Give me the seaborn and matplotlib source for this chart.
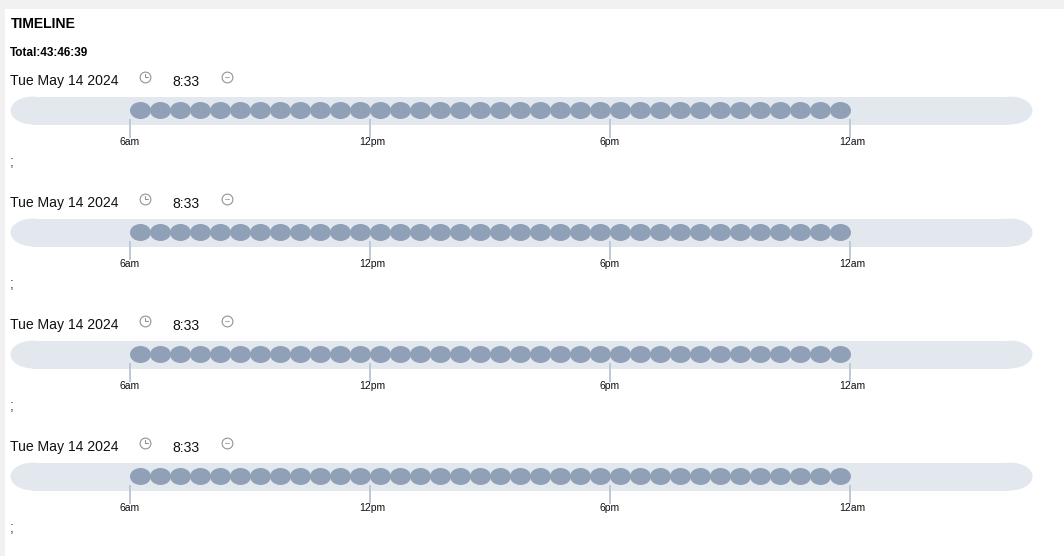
import numpy as np
import pandas as pd
import seaborn as sns
import matplotlib.pyplot as plt
from matplotlib.path import Path
from matplotlib.transforms import Affine2D, ScaledTranslation

sns.set_theme(style="white")
plt.rcParams['font.family'] = ['Liberation Sans', 'DejaVu Sans']

title = "TIMELINE"
total = "Total:43:46:39"
dates = ["Tue May 14 2024", "Tue May 14 2024", "Tue May 14 2024", "Tue May 14 2024"]
durations = ["8:33", "8:33", "8:33", "8:33"]

# hour of day, 24 = midnight
tick_hours = [6, 12, 18, 24]
tick_labels = ["6am", "12pm", "6pm", "12am"]
slot_hours = [6.25, 6.75, 7.25, 7.75, 8.25, 8.75, 9.25, 9.75, 10.25, 10.75, 11.25, 11.75,
              12.25, 12.75, 13.25, 13.75, 14.25, 14.75, 15.25, 15.75, 16.25, 16.75, 17.25, 17.75,
              18.25, 18.75, 19.25, 19.75, 20.25, 20.75, 21.25, 21.75, 22.25, 22.75, 23.25, 23.75]
track_hours = [3.55, 28.0]

W, H = 1064, 556
row_step = 122

TRACK = "#e3e7ee"
DOT = "#90a0b6"
TICK = "#bfc8d5"
BG = "#f1f1f1"

fig = plt.figure(figsize=(W / 100, H / 100), dpi=100, facecolor="white")

# page layer in pixel coordinates
page = fig.add_axes([0, 0, 1, 1], zorder=0)
page.set_xlim(0, W)
page.set_ylim(H, 0)
page.axis("off")
page.axvspan(0, 5, color=BG, lw=0)
page.axhspan(0, 9, color=BG, lw=0)

page.text(11, 24.3, title, fontsize=10.1, fontweight="bold", color="black", va="center")
page.text(9.6, 52.5, total, fontsize=8.45, fontweight="bold", color="black", va="center")

# wide ellipses for the half hour slots and the track ends
slot_marker = Path.unit_circle().transformed(Affine2D().scale(1.0, 0.81))
end_marker = Path.unit_circle().transformed(Affine2D().scale(1.0, 0.63))
icon_grey = "#939393"

for i in range(4):
    dy = i * row_step
    page.text(10.5, 81.5 + dy, dates[i], fontsize=10.1, color="#111111", va="center")
    page.text(186, 82.5 + dy, durations[i], fontsize=10.1, color="#111111", va="center", ha="center")
    page.text(10, 162.2 + dy, ";", fontsize=10, color="#26475f", va="center")

    # clock and minus icons
    page.scatter([144.8, 226.8], [77.4 + dy, 77.4 + dy], s=60, facecolor="white", edgecolor=icon_grey, linewidth=0.8)
    page.plot([144.8, 144.8, 147.8], [74 + dy, 77.4 + dy, 77.4 + dy], color=icon_grey, lw=0.8)
    page.plot([224.8, 228.8], [77.4 + dy, 77.4 + dy], color="#b0b0b0", lw=0.8)

    top = 102.5 + dy
    ax = fig.add_axes([0, 1 - (top + 16) / H, 1, 16 / H], zorder=1)
    ax.patch.set_alpha(0)

    track = pd.DataFrame({"hour": track_hours, "y": [0, 0]})
    sns.lineplot(data=track, x="hour", y="y", color=TRACK, linewidth=20.16,
                 solid_capstyle="butt", clip_on=False, zorder=1, ax=ax)
    ends = track.assign(y=0.04)
    sns.scatterplot(data=ends, x="hour", y="y", marker=end_marker, s=1004, color=TRACK,
                    linewidth=0, clip_on=False, zorder=1, ax=ax)

    slots = pd.DataFrame({"hour": slot_hours, "y": np.full(len(slot_hours), 0.075)})
    sns.scatterplot(data=slots, x="hour", y="y", marker=slot_marker, s=228, color=DOT,
                    linewidth=0, clip_on=False, zorder=2, ax=ax)

    ax.set_xlim(2.755, 29.355)
    ax.set_ylim(-1, 1)
    ax.set_xticks(tick_hours)
    ax.set_xticklabels(tick_labels, fontsize=7.5, color="#111111")
    ax.set_yticks([])
    ax.set_xlabel("")
    ax.set_ylabel("")
    ax.set_axisbelow(False)
    ax.tick_params(axis="x", length=13.4, width=1.4, color=TICK, pad=-0.2, bottom=True)
    sns.despine(ax=ax, left=True, bottom=True)

    # the 12 labels sit a bit right of their ticks
    for lab in ax.get_xticklabels():
        if lab.get_text().startswith("12"):
            lab.set_transform(lab.get_transform() + ScaledTranslation(0.028, 0, fig.dpi_scale_trans))

fig.savefig("out.png", dpi=100, facecolor="white")
